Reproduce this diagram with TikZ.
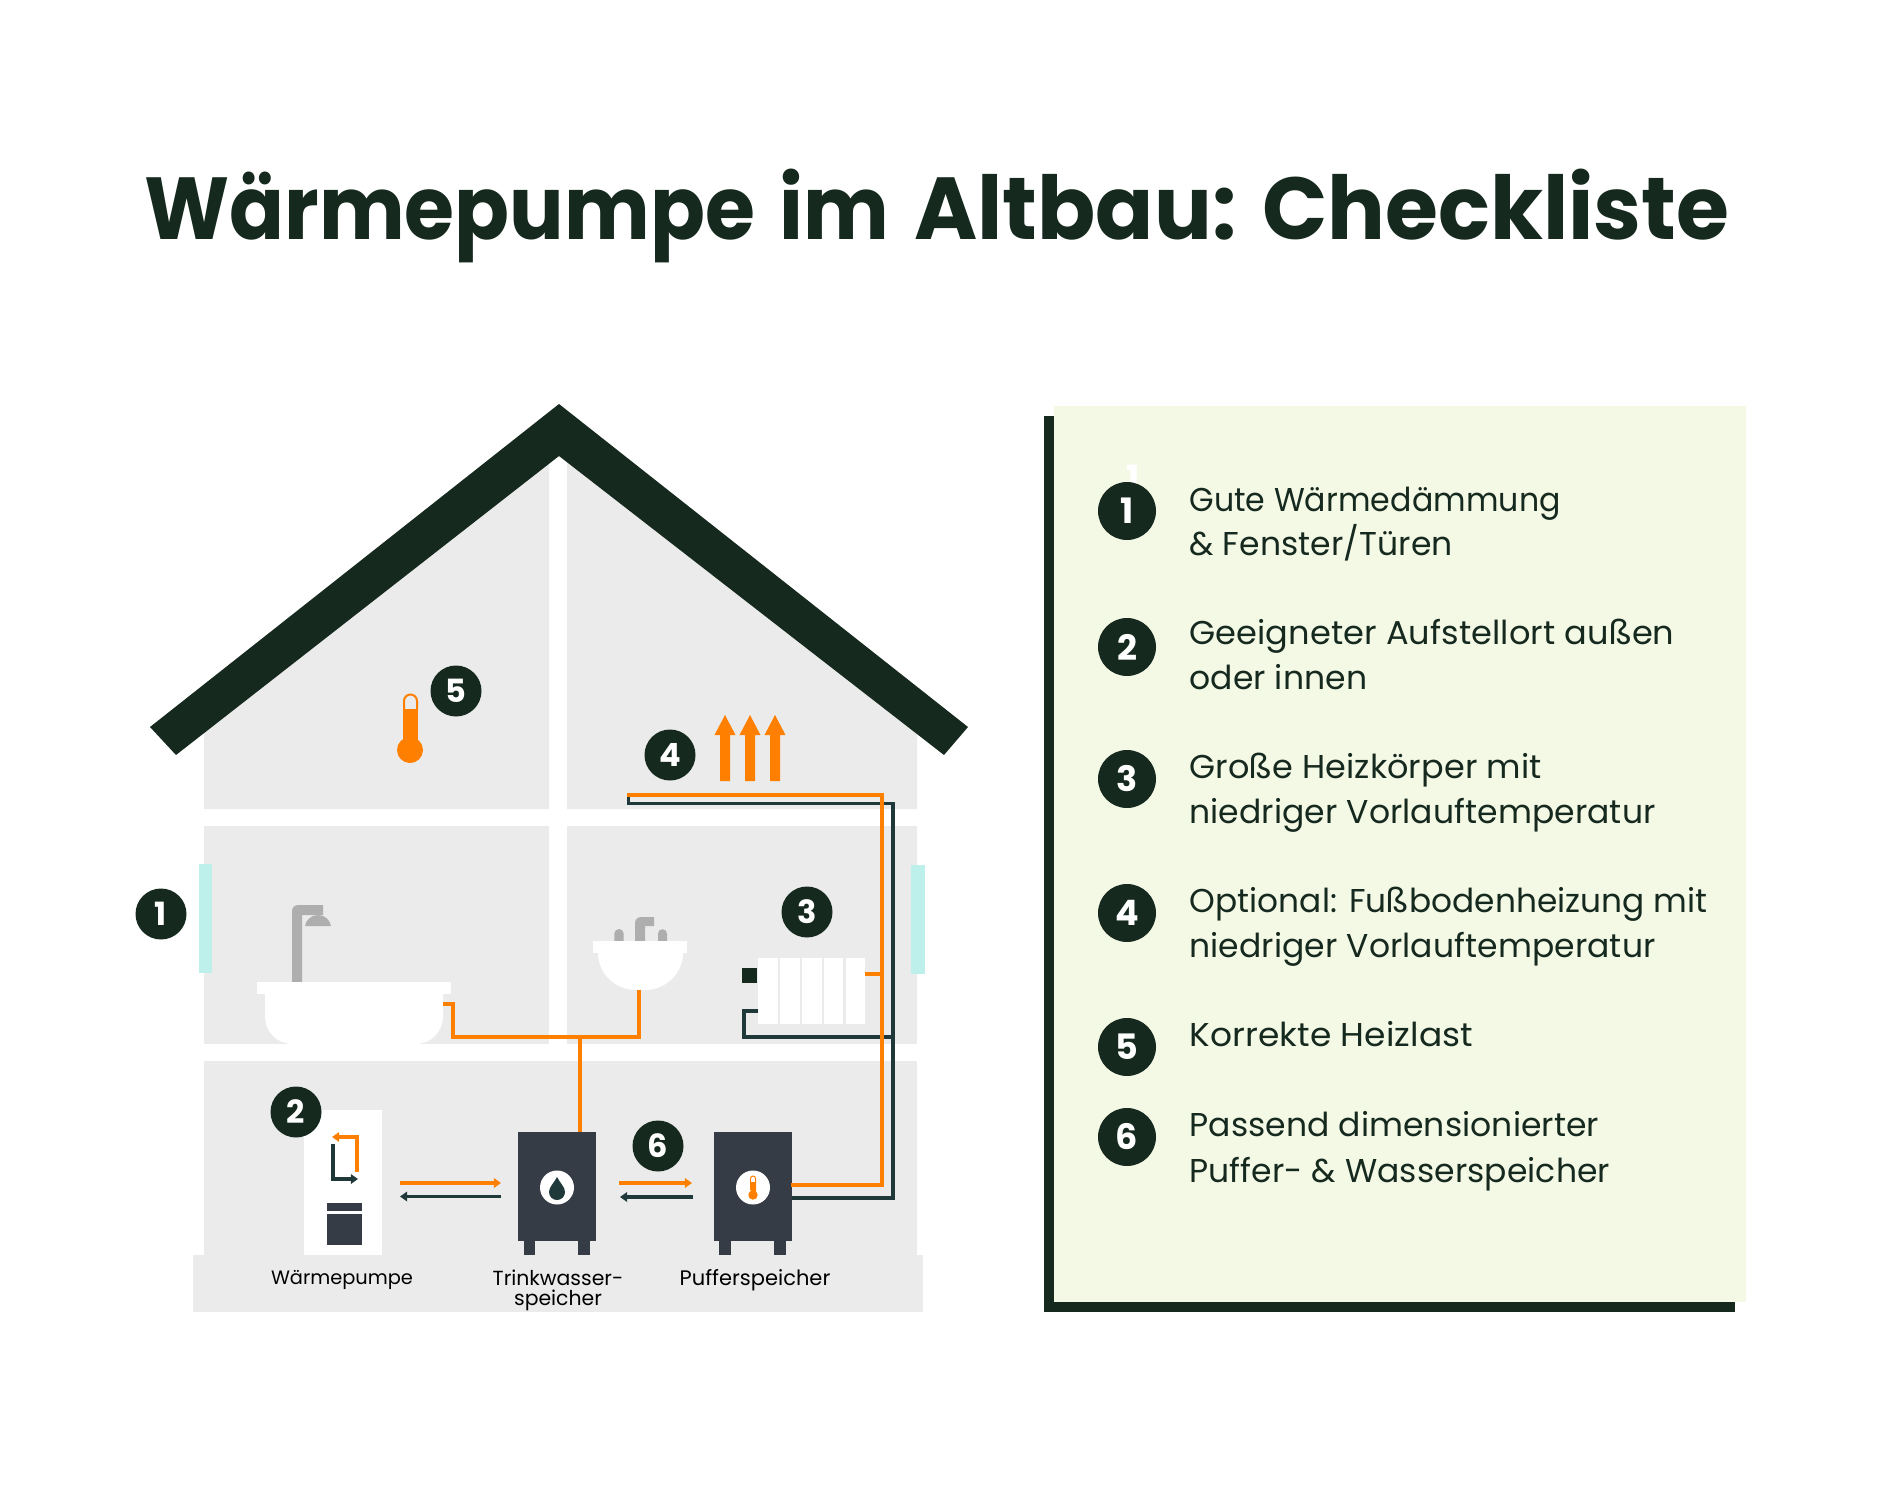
\documentclass[tikz,border=0pt]{standalone}
\usepackage{fontspec}
\setmainfont{Poppins}
\newfontfamily\titlefontA[FakeStretch=0.92,WordSpace=1.45]{Poppins}
\newfontfamily\titlefontB[FakeStretch=0.975,WordSpace=1.1]{Poppins}
\usetikzlibrary{arrows.meta}
\definecolor{dark}{HTML}{16291F}
\definecolor{pipedark}{HTML}{1F393B}
\definecolor{orng}{HTML}{FF8000}
\definecolor{room}{HTML}{EBEBEB}
\definecolor{glass}{HTML}{BDF0EA}
\definecolor{tank}{HTML}{363C46}
\definecolor{tap}{HTML}{AEAEAE}
\definecolor{panel}{HTML}{F4F9E6}
\tikzset{
  badge/.style={circle,fill=dark,text=white,inner sep=0pt,minimum size=25.5pt,font=\fontsize{16}{16}\selectfont\bfseries},
  bigbadge/.style={circle,fill=dark,text=white,inner sep=0pt,minimum size=29pt,font=\fontsize{17.5}{17.5}\selectfont\bfseries},
  hotpipe/.style={draw=orng,line width=1.7pt,line cap=butt,line join=miter},
  coldpipe/.style={draw=pipedark,line width=1.6pt,line cap=butt,line join=miter},
  tipsmall/.style={-{Triangle[length=3.6pt,width=4.8pt]}},
  listtext/.style={anchor=base west,inner sep=0pt,text=dark,font=\addfontfeature{LetterSpace=0.3}\fontsize{16.5}{16.5}\selectfont},
  caption/.style={anchor=base,inner sep=0pt,text=black,font=\fontsize{10.2}{10.2}\selectfont}
}
\newcommand{\upshaft}[1]{\fill[orng] (#1-5,781) -- (#1-5,735) -- (#1-10.5,735) -- (#1,715) -- (#1+10.5,735) -- (#1+5,735) -- (#1+5,781) -- cycle;}
\newcommand{\stretched}[2]{{\addfontfeature{FakeStretch=#1}#2}}
\begin{document}
\begin{tikzpicture}[x=0.5pt,y=-0.5pt]
\useasboundingbox (0,0) rectangle (1880,1504);
\fill[white] (0,0) rectangle (1880,1504);
% title
\node[anchor=base,inner sep=0pt,text=dark,font=\fontsize{44}{44}\selectfont\bfseries] (title) at (937,239) {{\titlefontA\bfseries Wärmepumpe im }{\titlefontB\bfseries Altbau: Checkliste}};
% rooms
\fill[room] (204,809) -- (204,725) -- (549,455) -- (549,809) -- cycle;
\fill[room] (567,809) -- (917,809) -- (917,725) -- (567,455) -- cycle;
\fill[room] (204,826) rectangle (549,1044);
\fill[room] (567,826) rectangle (917,1044);
\fill[room] (204,1061) rectangle (917,1255);
\fill[room] (193,1255) rectangle (923,1312);
% roof
\fill[dark] (559,404) -- (968,727) -- (944,755) -- (559,456) -- (176,755) -- (150,727) -- cycle;
% windows
\fill[glass] (199,864) rectangle (212,973);
\fill[glass] (911,865) rectangle (925,974);
% shower
\fill[tap] (292,982) -- (292,911) arc[start angle=180,end angle=270,radius=6] -- (323,905) -- (323,915) -- (302,915) -- (302,982) -- cycle;
\fill[tap] (305,926) .. controls (306,920) and (311,915) .. (318,915) .. controls (325,915) and (330,920) .. (331,926) -- cycle;
% tub
\fill[white] (257,982) rectangle (451,994);
\fill[white] (265,994) -- (443,994) -- (443,1016) .. controls (443,1032) and (431,1044) .. (415,1044) -- (293,1044) .. controls (277,1044) and (265,1032) .. (265,1016) -- cycle;
% basin taps
\fill[tap] (635,942) -- (635,923) arc[start angle=180,end angle=270,radius=6] -- (654,917) -- (654,926) -- (645,926) -- (645,942) -- cycle;
\fill[tap] (614.3,942) -- (614.3,933.7) arc[start angle=180,end angle=360,radius=4.7] -- (623.7,942) -- cycle;
\fill[tap] (658,942) -- (658,933.7) arc[start angle=180,end angle=360,radius=4.5] -- (667,942) -- cycle;
% basin
\fill[white] (593,941) rectangle (687,953);
\fill[white] (598,953) -- (683,953) .. controls (683,974) and (665,990) .. (645,990) -- (636,990) .. controls (616,990) and (598,974) .. (598,953) -- cycle;
% radiator
\fill[white] (758,958) rectangle (778,1024);
\fill[white] (780,958) rectangle (800,1024);
\fill[white] (802,958) rectangle (821.7,1024);
\fill[white] (824,958) rectangle (843.3,1024);
\fill[white] (845.7,958) rectangle (865,1024);
\fill[dark] (742,968) rectangle (757,983);
% heat pump
\fill[white] (304,1110) rectangle (382,1255);
\fill[tank] (327,1203) rectangle (362,1211);
\fill[tank] (327,1214) rectangle (362,1245);
% tanks
\fill[tank] (518,1132) rectangle (596,1241);
\fill[tank] (524,1241) rectangle (535,1255);
\fill[tank] (578,1241) rectangle (590,1255);
\fill[tank] (714,1132) rectangle (792,1241);
\fill[tank] (719,1241) rectangle (731,1255);
\fill[tank] (774,1241) rectangle (786,1255);
\fill[white] (557,1187.5) circle[radius=17];
\fill[white] (753,1187.5) circle[radius=17];
\fill[pipedark] (557,1177) .. controls (554,1183) and (549,1187) .. (549,1192) arc[start angle=180,end angle=0,radius=8] .. controls (565,1187) and (560,1183) .. (557,1177) -- cycle;
% small thermometer
\draw[orng,line width=0.5pt] (750.5,1190) -- (750.5,1178.5) arc[start angle=180,end angle=360,radius=2.5] -- (755.5,1190);
\fill[orng] (750.5,1182) rectangle (755.5,1194);
\fill[orng] (753,1195) circle[radius=4.7];
% named connector points
\coordinate (tubout) at (443,1004);
\coordinate (tubbend) at (453,1004);
\coordinate (tubfloor) at (453,1037);
\coordinate (basinfloor) at (639,1037);
\coordinate (basinout) at (639,990);
\coordinate (tee) at (580,1037);
\coordinate (tanktop) at (580,1132);
\coordinate (hotend) at (627,795);
\coordinate (hotriser) at (882,795);
\coordinate (hotfoot) at (882,1185);
\coordinate (buffhot) at (791,1185);
\coordinate (radhot) at (865,974);
\coordinate (radhotj) at (882,974);
\coordinate (coldend) at (628.5,795);
\coordinate (coldfl) at (628.5,803.5);
\coordinate (coldriser) at (893,803.5);
\coordinate (coldfoot) at (893,1198);
\coordinate (buffcold) at (792,1198);
\coordinate (radcold) at (758,1011);
\coordinate (radbend) at (744,1011);
\coordinate (radfl) at (744,1037);
\coordinate (radj) at (893,1037);
% pipes
\draw[coldpipe] (coldend) -- (coldfl) -- (coldriser) -- (coldfoot) -- (buffcold);
\draw[coldpipe] (radcold) -- (radbend) -- (radfl) -- (radj);
\draw[hotpipe] (tubout) -- (tubbend) -- (tubfloor) -- (basinfloor) -- (basinout);
\draw[hotpipe] (tee) -- (tanktop);
\draw[hotpipe] (hotend) -- (hotriser) -- (hotfoot) -- (buffhot);
\draw[hotpipe] (radhot) -- (radhotj);
% heat-up arrows
\upshaft{725}\upshaft{750}\upshaft{775}
% room thermometer
\draw[orng,line width=1pt] (404,709) -- (404,701) arc[start angle=180,end angle=360,radius=6.5] -- (417,709);
\fill[orng] (403,708.5) rectangle (418,745);
\fill[orng] (410,750) circle[radius=13];
% flow arrows
\coordinate (wpa) at (400,1183); \coordinate (tka) at (501,1183);
\coordinate (wpb) at (400,1196.5); \coordinate (tkb) at (501,1196.5);
\coordinate (tkc) at (619,1183); \coordinate (bfc) at (692,1183);
\coordinate (tkd) at (620,1197); \coordinate (bfd) at (693,1197);
\draw[hotpipe,tipsmall] (wpa) -- (tka);
\draw[coldpipe,tipsmall] (tkb) -- (wpb);
\draw[hotpipe,tipsmall] (tkc) -- (bfc);
\draw[coldpipe,tipsmall] (bfd) -- (tkd);
\coordinate (wa1) at (357,1172); \coordinate (wa2) at (357,1137); \coordinate (wa3) at (332,1137);
\coordinate (wb1) at (333,1144); \coordinate (wb2) at (333,1179); \coordinate (wb3) at (358,1179);
\draw[hotpipe,tipsmall] (wa1) -- (wa2) -- (wa3);
\draw[coldpipe,tipsmall] (wb1) -- (wb2) -- (wb3);
% badges in house
\node[badge] (h1) at (161,914) {1};
\node[badge] (h2) at (296,1112) {2};
\node[badge] (h3) at (807,912) {3};
\node[badge] (h4) at (670,755) {4};
\node[badge] (h5) at (456,691) {5};
\node[badge] (h6) at (658,1146) {6};
% captions
\node[caption,font=\fontsize{9.7}{9.7}\selectfont] (c1) at (342,1284.5) {Wärmepumpe};
\node[caption] (c2) at (558,1285.5) {Trinkwasser-};
\node[caption] (c2b) at (558,1305.5) {speicher};
\node[caption,font=\fontsize{10.5}{10.5}\selectfont] (c3) at (755,1285.5) {Pufferspeicher};
% panel
\fill[dark] (1044,416) rectangle (1054,1312);
\fill[dark] (1044,1302) rectangle (1735,1312);
\fill[panel] (1054,406) rectangle (1746,1302);
\node[inner sep=0pt,text=white,font=\fontsize{17.5}{17.5}\selectfont\bfseries] (ghost) at (1133,478) {1};
\node[bigbadge] (p1) at (1127,511) {1};
\node[bigbadge] (p2) at (1127,647) {2};
\node[bigbadge] (p3) at (1127,779) {3};
\node[bigbadge] (p4) at (1127,913) {4};
\node[bigbadge] (p5) at (1127,1047) {5};
\node[bigbadge] (p6) at (1127,1137) {6};
\node[listtext] (t1a) at (1189,511) {\stretched{0.957}{Gute Wärmedämmung}};
\node[listtext] (t1b) at (1189,555.5) {\& Fenster/Türen};
\node[listtext] (t2a) at (1189,644.5) {\stretched{1.018}{Geeigneter Aufstellort außen}};
\node[listtext] (t2b) at (1189,689.5) {oder innen};
\node[listtext] (t3a) at (1189,778.5) {\stretched{1.014}{Große Heizkörper mit}};
\node[listtext] (t3b) at (1189,823.5) {niedriger Vorlauftemperatur};
\node[listtext] (t4a) at (1189,912.5) {\stretched{0.993}{Optional: Fußbodenheizung mit}};
\node[listtext] (t4b) at (1189,957.5) {niedriger Vorlauftemperatur};
\node[listtext] (t5) at (1189,1046.5) {\stretched{1.044}{Korrekte Heizlast}};
\node[listtext] (t6a) at (1189,1136.5) {Passend dimensionierter};
\node[listtext] (t6b) at (1189,1182.5) {Puffer- \& Wasserspeicher};
\end{tikzpicture}
\end{document}
